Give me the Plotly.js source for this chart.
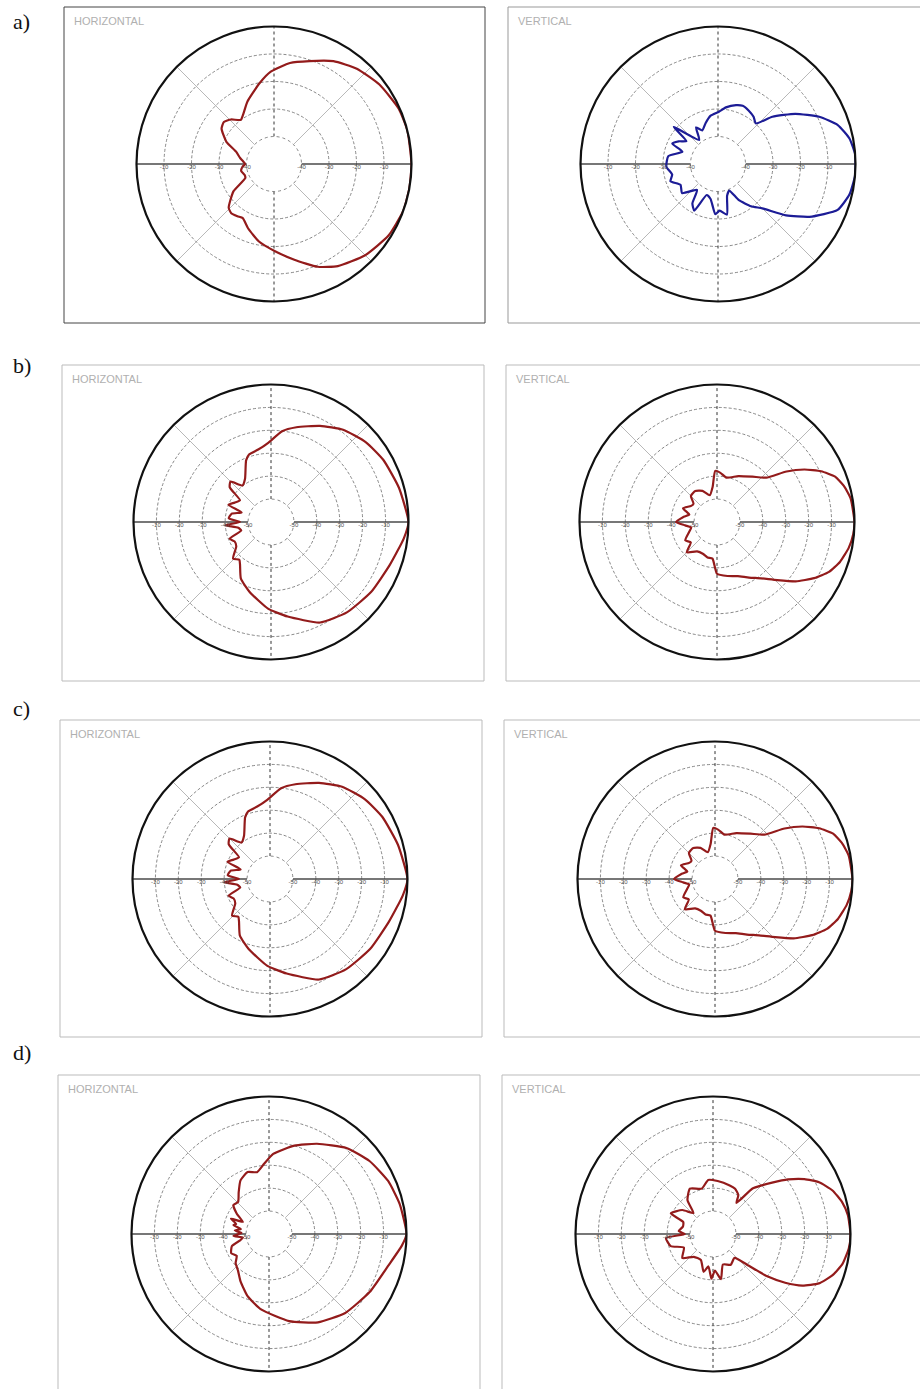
<!DOCTYPE html>
<html>
<head>
<meta charset="utf-8">
<script src="https://cdn.plot.ly/plotly-3.0.1.min.js"></script>
<style>
  html, body { margin: 0; padding: 0; background: #fff; }
  #chart { width: 920px; height: 1389px; }
</style>
</head>
<body>
<div id="chart"></div>
<script>
// ---------------- DATA (angle in degrees, level in dB) ----------------
const aH_theta = [0, 14, 24, 37, 49, 60, 71, 81, 92, 100, 113, 122, 127, 134, 140, 146, 155, 162, 170, 175, 180, 185, 192, 200, 206, 214, 224, 229, 235, 240, 248, 259, 271, 282, 293, 302, 315, 328, 340, 350, 360];
const aH_r     = [0, 0, -0.4, -2.0, -4.1, -6.8, -10.4, -12.8, -16.4, -20.1, -25.3, -28.8, -29.9, -27.5, -26.2, -27.0, -30.9, -35.5, -37.5, -38.7, -39.5, -38.5, -37.8, -38.6, -38.4, -32.2, -27.1, -26.3, -26.8, -27.3, -24.8, -21.3, -18.2, -14.4, -9.4, -6.2, -3.1, -0.9, 0, 0, 0];

const aV_theta = [0, 4, 11, 18, 25, 33, 41, 47, 53, 60, 67, 73, 82, 89, 99, 107, 115, 121, 128, 140, 144, 150, 156, 161, 171, 183, 193, 200, 209, 219, 231, 237, 243, 250, 258, 267, 272, 280, 286, 293, 300, 308, 315, 323, 330, 339, 347, 355, 360];
const aV_r     = [0, 0, -1.3, -4.2, -9.4, -16.5, -23.8, -29.8, -28.5, -27.6, -27.0, -27.6, -29.2, -31.0, -32.3, -34.5, -36.5, -34.5, -38.9, -29.0, -35.8, -33.5, -31.8, -36.3, -31.7, -31.2, -32.9, -31.6, -34.4, -33.2, -37.9, -32.9, -31.0, -38.0, -37.0, -31.7, -33.0, -31.3, -38.0, -39.5, -34.8, -30.5, -27.2, -19.0, -11.6, -3.4, -0.9, 0, 0];

const bH_theta = [0, 15, 29, 40, 52, 63, 75, 83, 92, 100, 108, 112, 121, 128, 135, 140, 145, 152, 158, 162, 168, 175, 180, 184, 190, 196, 202, 208, 215, 224, 230, 234, 242, 253, 268, 280, 296, 310, 325, 340, 353, 360];
const bH_r     = [0, -2.2, -4.0, -5.9, -8.9, -12.9, -17.2, -20.1, -25.4, -27.9, -29.0, -31.0, -38.0, -39.8, -35.0, -36.5, -43.5, -42.0, -40.0, -46.5, -42.5, -41.5, -46.5, -40.0, -45.5, -46.5, -40.5, -42.0, -41.5, -37.0, -38.5, -37.0, -32.0, -28.1, -22.2, -18.1, -11.2, -8.5, -6.7, -4.9, -1.6, 0];

const bV_theta = [0, 10, 16, 21, 26, 31, 36, 42, 52, 65, 78, 86, 92, 97, 105, 115, 125, 135, 142, 148, 158, 165, 172, 180, 186, 192, 200, 210, 218, 225, 236, 246, 255, 263, 270, 281, 291, 300, 308, 316, 323, 330, 336, 342, 349, 355, 360];
const bV_r     = [0, -0.8, -2.5, -4.8, -9.5, -15.5, -22.5, -31.1, -34.9, -37.9, -40.2, -38.5, -37.7, -44.5, -47.9, -45.0, -43.5, -43.9, -47.0, -46.7, -44.0, -47.5, -45.0, -42.2, -46.0, -48.5, -47.0, -44.0, -45.5, -41.3, -44.5, -44.8, -44.0, -43.9, -37.4, -36.0, -34.7, -32.0, -28.8, -23.5, -17.0, -11.0, -6.5, -3.6, -1.4, -0.3, 0];

const cH_theta = [0, 15, 29, 40, 52, 63, 75, 83, 92, 100, 108, 112, 121, 128, 135, 140, 145, 152, 158, 162, 168, 175, 180, 184, 190, 196, 202, 208, 215, 224, 230, 234, 242, 253, 268, 280, 296, 310, 325, 340, 353, 360];
const cH_r     = [0, -2.2, -4.0, -5.9, -8.9, -12.9, -17.2, -20.1, -25.4, -27.9, -29.0, -31.0, -38.0, -39.8, -35.0, -36.5, -43.5, -42.0, -40.0, -46.5, -42.5, -41.5, -46.5, -40.0, -45.5, -46.5, -40.5, -42.0, -41.5, -37.0, -38.5, -37.0, -32.0, -28.1, -22.2, -18.1, -11.2, -8.5, -6.7, -4.9, -1.6, 0];

const cV_theta = [0, 10, 16, 21, 26, 31, 36, 42, 52, 65, 78, 86, 92, 97, 105, 115, 125, 135, 142, 148, 158, 165, 172, 180, 186, 192, 200, 210, 218, 225, 236, 246, 255, 263, 270, 281, 291, 300, 308, 316, 323, 330, 336, 342, 349, 355, 360];
const cV_r     = [0, -0.8, -2.5, -4.8, -9.5, -15.5, -22.5, -31.1, -34.9, -37.9, -40.2, -38.5, -37.7, -44.5, -47.9, -45.0, -43.5, -43.9, -47.0, -46.7, -44.0, -47.5, -45.0, -42.2, -46.0, -48.5, -47.0, -44.0, -45.5, -41.3, -44.5, -44.8, -44.0, -43.9, -37.4, -36.0, -34.7, -32.0, -28.8, -23.5, -17.0, -11.0, -6.5, -3.6, -1.4, -0.3, 0];

const dH_theta = [0, 13, 24, 36, 48, 62, 74, 87, 94, 101, 109, 118, 126, 134, 141, 148, 155, 158, 163, 166, 170, 174, 178, 183, 188, 192, 198, 207, 214, 221, 230, 239, 251, 264, 283, 299, 314, 330, 345, 355, 360];
const dH_r     = [0, -1.5, -3.1, -5.8, -9.5, -15.4, -19.9, -25.0, -29.3, -32.5, -31.4, -33.5, -37.5, -40.6, -40.0, -43.5, -47.4, -42.1, -45.0, -44.0, -47.5, -45.0, -48.0, -44.5, -48.5, -47.3, -43.0, -41.5, -43.0, -40.7, -39.0, -35.9, -31.3, -26.9, -21.0, -15.9, -12.1, -9.3, -6.2, -1.8, 0];

const dV_theta = [0, 8, 14, 20, 26, 31, 36, 41, 45, 49, 53, 57, 64, 71, 85, 95, 104, 117, 127, 133, 142, 154, 158, 166, 175, 180, 185, 196, 205, 218, 230, 245, 256, 262, 268, 273, 280, 288, 300, 312, 318, 322, 326, 330, 335, 341, 347, 354, 360];
const dV_r     = [0, -0.6, -2.0, -4.5, -8.5, -13.5, -19.5, -25.8, -30.0, -33.7, -43.0, -39.7, -38.0, -37.6, -36.8, -36.3, -39.6, -37.8, -41.5, -47.5, -43.0, -39.5, -46.0, -46.5, -45.0, -47.7, -39.4, -40.8, -46.0, -43.0, -47.0, -47.5, -43.0, -45.7, -40.5, -44.0, -40.0, -46.0, -44.5, -46.0, -40.0, -30.0, -22.0, -15.0, -9.0, -4.8, -2.0, -0.4, 0];

const ticksA = [-10, -20, -30, -40];
const ticksBCD = [-10, -20, -30, -40, -50];
const rangeA = [-40, 0];
const rangeBCD = [-50, 0];
const rowLabels = ['a)', 'b)', 'c)', 'd)'];
const panelTitles = ['HORIZONTAL', 'VERTICAL'];

// ---------------- LAYOUT GEOMETRY ----------------
const W = 920, H = 1389, R = 137.5;
const RED = '#931b1b', BLUE = '#1c1c96';

const panels = [
  {cx: 274, cy: 164, th: aH_theta, r: aH_r, color: RED,  range: rangeA,   hole: 0.2, ticks: ticksA},
  {cx: 718, cy: 164, th: aV_theta, r: aV_r, color: BLUE, range: rangeA,   hole: 0.2, ticks: ticksA},
  {cx: 271, cy: 522, th: bH_theta, r: bH_r, color: RED,  range: rangeBCD, hole: 1/6, ticks: ticksBCD},
  {cx: 717, cy: 522, th: bV_theta, r: bV_r, color: RED,  range: rangeBCD, hole: 1/6, ticks: ticksBCD},
  {cx: 270, cy: 879, th: cH_theta, r: cH_r, color: RED,  range: rangeBCD, hole: 1/6, ticks: ticksBCD},
  {cx: 715, cy: 879, th: cV_theta, r: cV_r, color: RED,  range: rangeBCD, hole: 1/6, ticks: ticksBCD},
  {cx: 269, cy: 1234, th: dH_theta, r: dH_r, color: RED, range: rangeBCD, hole: 1/6, ticks: ticksBCD},
  {cx: 713, cy: 1234, th: dV_theta, r: dV_r, color: RED, range: rangeBCD, hole: 1/6, ticks: ticksBCD}
];

const boxes = [
  {x0: 64, y0: 7, x1: 485, y1: 323, c: '#444'},
  {x0: 508, y0: 7, x1: 925, y1: 323, c: '#999'},
  {x0: 62, y0: 365, x1: 484, y1: 681, c: '#bbb'},
  {x0: 506, y0: 365, x1: 925, y1: 681, c: '#bbb'},
  {x0: 60, y0: 720, x1: 482, y1: 1037, c: '#bbb'},
  {x0: 504, y0: 720, x1: 925, y1: 1037, c: '#bbb'},
  {x0: 58, y0: 1075, x1: 480, y1: 1395, c: '#bbb'},
  {x0: 502, y0: 1075, x1: 925, y1: 1395, c: '#bbb'}
];
const rowLabelY = [22, 365, 708, 1052];

const px = x => x / W;
const py = y => 1 - y / H;

const traces = [];
const layout = {
  width: W, height: H,
  margin: {l: 0, r: 0, t: 0, b: 0},
  paper_bgcolor: '#fff',
  showlegend: false,
  shapes: [],
  annotations: []
};

panels.forEach((p, i) => {
  const key = i === 0 ? 'polar' : 'polar' + (i + 1);
  layout[key] = {
    domain: {x: [px(p.cx - R), px(p.cx + R)], y: [py(p.cy + R), py(p.cy - R)]},
    hole: p.hole,
    bgcolor: 'rgba(0,0,0,0)',
    radialaxis: {
      range: p.range, tickvals: p.ticks, showticklabels: false, ticks: '',
      showline: false, gridcolor: '#6a6a6a', gridwidth: 0.8, griddash: '3px,2px'
    },
    angularaxis: {
      tickvals: [45, 135, 225, 315], showticklabels: false, ticks: '',
      gridcolor: '#9a9a9a', gridwidth: 0.7, showline: false
    }
  };
  const r0 = p.range[0], r1 = p.range[1];
  traces.push({type: 'scatterpolar', subplot: key, mode: 'lines', hoverinfo: 'skip',
    r: [r0, r1, null, r0, r1], theta: [0, 0, null, 180, 180],
    line: {color: '#4a4a4a', width: 1.6}});
  traces.push({type: 'scatterpolar', subplot: key, mode: 'lines', hoverinfo: 'skip',
    r: [r0, r1, null, r0, r1], theta: [90, 90, null, 270, 270],
    line: {color: '#333', width: 1, dash: 'dot'}});
  traces.push({type: 'scatterpolar', subplot: key, mode: 'lines',
    r: p.r, theta: p.th, line: {color: p.color, width: 2.2, shape: 'spline', smoothing: 0.5}});
  const tr = p.ticks.concat(p.ticks);
  const tt = p.ticks.map(() => 180).concat(p.ticks.map(() => 0));
  traces.push({type: 'scatterpolar', subplot: key, mode: 'text', hoverinfo: 'skip',
    r: tr, theta: tt, text: tr.map(v => String(v)),
    textposition: 'bottom center', cliponaxis: false,
    textfont: {size: 6, color: '#555', family: 'Liberation Sans, Arial, sans-serif'}});

  // outer (0 dB) circle and the faint dashed inner edge
  layout.shapes.push({type: 'circle', xref: 'paper', yref: 'paper',
    x0: px(p.cx - R), x1: px(p.cx + R), y0: py(p.cy + R), y1: py(p.cy - R),
    line: {color: '#111', width: 2.2}, layer: 'above'});
  const rh = R * p.hole;
  layout.shapes.push({type: 'circle', xref: 'paper', yref: 'paper',
    x0: px(p.cx - rh), x1: px(p.cx + rh), y0: py(p.cy + rh), y1: py(p.cy - rh),
    line: {color: '#6a6a6a', width: 0.8, dash: 'dot'}, layer: 'below'});
});

boxes.forEach((b, i) => {
  layout.shapes.push({type: 'rect', xref: 'paper', yref: 'paper',
    x0: px(b.x0), x1: px(b.x1), y0: py(b.y1), y1: py(b.y0),
    line: {color: b.c, width: 1}, layer: 'below'});
  layout.annotations.push({xref: 'paper', yref: 'paper', x: px(b.x0 + 8), y: py(b.y0 + 14),
    xanchor: 'left', yanchor: 'middle', showarrow: false,
    text: panelTitles[i % 2],
    font: {size: 11, color: '#b0b0b0', family: 'Liberation Sans, Arial, sans-serif'}});
});

rowLabels.forEach((t, i) => {
  layout.annotations.push({xref: 'paper', yref: 'paper', x: px(11), y: py(rowLabelY[i]),
    xanchor: 'left', yanchor: 'middle', showarrow: false, text: t,
    font: {size: 22, color: '#111', family: 'Liberation Serif, Times New Roman, serif'}});
});

Plotly.newPlot('chart', traces, layout, {staticPlot: true, displayModeBar: false});
</script>
</body>
</html>
